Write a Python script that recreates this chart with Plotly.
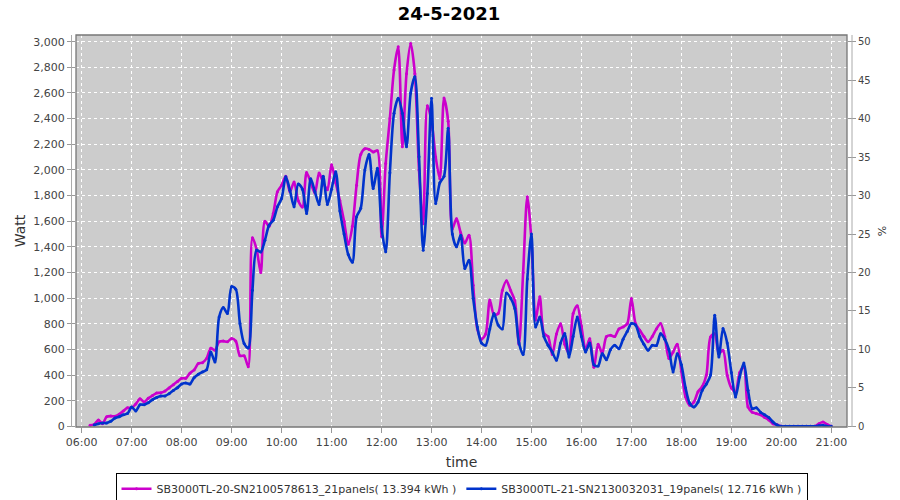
import pandas as pd
import plotly.graph_objects as go

# ---- data (5-minute samples, Watt) ----
m_start = "2021-05-24 06:10"
mag_06 = [8, 15, 50, 20, 75, 80, 78, 95, 120, 145]
mag_07 = [145, 175, 215, 190, 220, 240, 260, 262, 275, 300, 325, 350]
mag_08 = [375, 375, 415, 440, 490, 497, 530, 610, 593, 660, 665, 660]
mag_09 = [685, 665, 550, 550, 465, 1470, 1380, 1200, 1600, 1560, 1660, 1830]
mag_10 = [1880, 1950, 1830, 1905, 1760, 1710, 1980, 1900, 1820, 1975, 1900, 1845]
mag_11 = [2040, 1900, 1760, 1600, 1420, 1560, 1880, 2120, 2165, 2160, 2140, 2150]
mag_12 = [1480, 2050, 2400, 2780, 2960, 2180, 2750, 2985, 2750, 2000, 1580, 2500]
mag_13 = [2380, 2100, 1930, 2560, 2380, 1540, 1620, 1510, 1430, 1490, 1100, 760]
mag_14 = [680, 720, 985, 870, 880, 1060, 1135, 1060, 980, 640, 1200, 1790]
mag_15 = [1450, 830, 1010, 724, 700, 560, 720, 800, 640, 570, 880, 940]
mag_16 = [780, 600, 684, 460, 640, 570, 700, 710, 700, 760, 775, 800]
mag_17 = [997, 800, 750, 700, 660, 700, 760, 802, 700, 530, 580, 640]
mag_18 = [430, 230, 164, 190, 270, 310, 400, 697, 723, 567, 593, 398]
mag_19 = [300, 268, 420, 463, 150, 110, 100, 90, 70, 50, 20, 12]
mag_20 = [0, 0, 0, 0, 0, 0, 0, 0, 0, 20, 34, 15]
mag_21 = [0]

b_start = "2021-05-24 06:15"
blu_06 = [10, 21, 26, 26, 40, 65, 75, 90, 100]
blu_07 = [150, 120, 169, 169, 185, 208, 225, 237, 237, 255, 280, 302]
blu_08 = [330, 338, 330, 380, 406, 424, 442, 580, 502, 853, 926, 880]
blu_09 = [1090, 1070, 802, 646, 611, 1062, 1374, 1360, 1452, 1569, 1608, 1712]
blu_10 = [1777, 1946, 1842, 1712, 1890, 1850, 1660, 1930, 1830, 1730, 1950, 1730]
blu_11 = [1850, 1985, 1680, 1500, 1340, 1280, 1634, 1700, 2000, 2120, 1855, 2012]
blu_12 = [1556, 1361, 1978, 2441, 2558, 2441, 2181, 2600, 2727, 2102, 1374, 1816]
blu_13 = [2558, 1738, 1900, 1950, 2324, 1500, 1400, 1491, 1231, 1296, 1000, 775]
blu_14 = [650, 632, 760, 880, 790, 760, 1040, 1000, 919, 650, 560, 1150]
blu_15 = [1500, 775, 853, 700, 632, 580, 515, 650, 724, 540, 700, 853]
blu_16 = [700, 580, 650, 480, 470, 567, 520, 600, 632, 606, 680, 740]
blu_17 = [802, 790, 700, 640, 593, 632, 630, 723, 680, 600, 424, 567]
blu_18 = [480, 300, 180, 151, 190, 280, 330, 400, 867, 541, 763, 650]
blu_19 = [420, 229, 385, 494, 281, 138, 145, 110, 90, 70, 34, 10]
blu_20 = [0, 0, 0, 0, 0, 0, 0, 0, 0, 5, 8, 0]
blu_21 = [0]

name_mag = "SB3000TL-20-SN2100578613_21panels( 13.394 kWh )"
name_blu = "SB3000TL-21-SN2130032031_19panels( 12.716 kWh )"
tick_times = ["06:00", "07:00", "08:00", "09:00", "10:00", "11:00", "12:00", "13:00",
              "14:00", "15:00", "16:00", "17:00", "18:00", "19:00", "20:00", "21:00"]

mag = (mag_06 + mag_07 + mag_08 + mag_09 + mag_10 + mag_11 + mag_12 + mag_13 +
       mag_14 + mag_15 + mag_16 + mag_17 + mag_18 + mag_19 + mag_20 + mag_21)
blu = (blu_06 + blu_07 + blu_08 + blu_09 + blu_10 + blu_11 + blu_12 + blu_13 +
       blu_14 + blu_15 + blu_16 + blu_17 + blu_18 + blu_19 + blu_20 + blu_21)
t_mag = pd.date_range(m_start, periods=len(mag), freq="5min")
t_blu = pd.date_range(b_start, periods=len(blu), freq="5min")

MAG = "#cc00cc"
BLU = "#0033cc"
FONT = "DejaVu Sans"

fig = go.Figure()
fig.add_trace(go.Scatter(x=t_mag, y=mag, name=name_mag, mode="lines+markers",
                         line=dict(color=MAG, width=2.6, shape="spline", smoothing=0.8),
                         marker=dict(size=3, color=MAG)))
fig.add_trace(go.Scatter(x=t_blu, y=blu, name=name_blu, mode="lines+markers",
                         line=dict(color=BLU, width=2.6, shape="spline", smoothing=0.8),
                         marker=dict(size=3, color=BLU)))
fig.add_trace(go.Scatter(x=[], y=[], yaxis="y2", showlegend=False))

# plot border and offset axis lines
fig.add_shape(type="rect", xref="paper", yref="paper", x0=0, y0=0, x1=1, y1=1,
              line=dict(color="#777777", width=1.3), layer="above")
fig.add_shape(type="line", xref="paper", yref="paper", x0=-0.0058, x1=-0.0058, y0=0, y1=1,
              line=dict(color="#aaaaaa", width=1))
fig.add_shape(type="line", xref="paper", yref="paper", x0=1.0065, x1=1.0065, y0=0, y1=1,
              line=dict(color="#aaaaaa", width=1))

tickvals = [pd.Timestamp("2021-05-24 " + s) for s in tick_times]
GRIDDASH = "3px,3px"

fig.update_layout(
    width=900, height=500,
    margin=dict(l=76, r=53, t=35, b=73, autoexpand=False),
    paper_bgcolor="white", plot_bgcolor="#cccccc",
    title=dict(text="<b>24-5-2021</b>", x=0.499, xanchor="center", y=0.972, yanchor="middle",
               font=dict(family=FONT, size=18, color="black")),
    showlegend=True,
    legend=dict(orientation="h", x=0.5, xanchor="center", y=-0.118, yanchor="top",
                bordercolor="black", borderwidth=1, bgcolor="white",
                font=dict(family=FONT, size=11, color="#333333"),
                itemwidth=30, tracegroupgap=0),
    xaxis=dict(type="date",
               range=[pd.Timestamp("2021-05-24 05:53:10"), pd.Timestamp("2021-05-24 21:18:50")],
               tickvals=tickvals, ticktext=tick_times,
               showgrid=True, gridcolor="white", griddash=GRIDDASH, gridwidth=1,
               ticks="outside", ticklen=5, tickcolor="#999999",
               tickfont=dict(family=FONT, size=11, color="#444444"),
               showline=False, zeroline=False, automargin=False,
               title=dict(text="time", font=dict(family=FONT, size=14, color="#333333"), standoff=8)),
    yaxis=dict(range=[-5, 3052], dtick=200, tickformat=",d",
               showgrid=True, gridcolor="white", griddash=GRIDDASH, gridwidth=1,
               ticks="outside", ticklen=8, tickcolor="#999999",
               tickfont=dict(family=FONT, size=11, color="#444444"),
               showline=False, zeroline=False, automargin=False,
               title=dict(text="Watt", font=dict(family=FONT, size=14, color="#333333"), standoff=4)),
    yaxis2=dict(overlaying="y", side="right", range=[-5 / 60, 3052 / 60], dtick=5,
                showgrid=False, zeroline=False, showline=False, automargin=False,
                ticks="outside", ticklen=8, tickcolor="#999999",
                tickfont=dict(family=FONT, size=10, color="#444444"),
                title=dict(text="%", font=dict(family=FONT, size=11, color="#333333"), standoff=8)),
)

fig.write_html("out.html", config={"displayModeBar": False},
               post_script="document.body.style.margin='0px';document.body.style.overflow='hidden';")
